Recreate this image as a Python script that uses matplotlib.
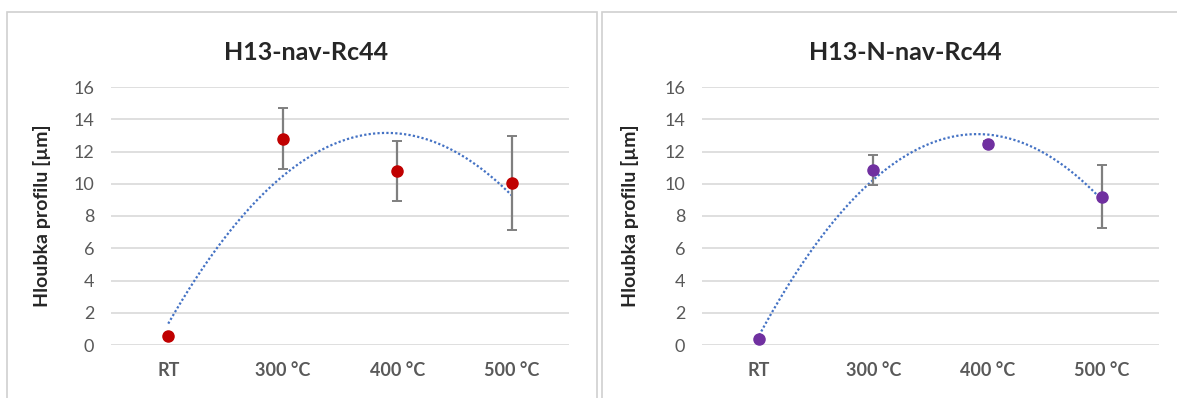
import numpy as np
import matplotlib
matplotlib.use("Agg")
import matplotlib.pyplot as plt
from matplotlib.patches import Rectangle

categories = ["RT", "300 °C", "400 °C", "500 °C"]

titles = ["H13-nav-Rc44", "H13-N-nav-Rc44"]
values_nav = [0.55, 12.8, 10.8, 10.05]
errors_nav = [0.0, 1.9, 1.85, 2.9]
values_n_nav = [0.4, 10.85, 12.45, 9.2]
errors_n_nav = [0.0, 0.95, 0.2, 1.95]
colors = ["#c00000", "#7030a0"]

plt.rcParams["font.family"] = ["Lato", "DejaVu Sans"]

fig = plt.figure(figsize=(11.77, 3.98), dpi=100)
W, H = 1177, 398

# panel frames
for x0, x1 in [(7, 597), (602, 1190)]:
    fig.patches.append(Rectangle((x0 / W, -0.05), (x1 - x0) / W, 1 - 12 / H + 0.05,
                                 transform=fig.transFigure, fill=False,
                                 edgecolor="#d0d0d0", lw=1.2))

axes_px = [(111, 569), (702, 1159)]
data = [(values_nav, errors_nav), (values_n_nav, errors_n_nav)]
ylabel_x = [42, 630]
title_x = [306, 905]

for i, ((xl, xr), (vals, errs)) in enumerate(zip(axes_px, data)):
    ax = fig.add_axes([xl / W, 1 - 345 / H, (xr - xl) / W, (345 - 87) / H])
    x = np.arange(len(categories)) + 0.5
    ax.set_xlim(0, 4)
    ax.set_ylim(0, 16)
    ax.set_yticks(range(0, 17, 2))
    ax.set_xticks(x)
    ax.set_xticklabels(categories, fontweight="bold")
    ax.tick_params(length=0, labelsize=13, colors="#595959")
    ax.tick_params(axis="y", pad=12)
    ax.tick_params(axis="x", pad=12)
    ax.grid(axis="y", color="#d9d9d9", lw=1.2)
    ax.set_axisbelow(True)
    for s in ax.spines.values():
        s.set_visible(False)

    # order-2 polynomial trendline as in the spreadsheet
    coef = np.polyfit(np.arange(1, 5), vals, 2)
    xs = np.linspace(1, 4, 200)
    ax.plot(xs - 0.5, np.polyval(coef, xs), color="#4472c4", lw=1.6, ls=(0, (1, 1)))

    ax.errorbar(x, vals, yerr=errs, fmt="none", ecolor="#7f7f7f", elinewidth=1.6,
                capsize=3.5, capthick=1.4, zorder=3)
    ax.plot(x, vals, "o", color=colors[i], ms=8, zorder=4)

    fig.text(title_x[i] / W, 1 - 52 / H, titles[i],
             ha="center", va="center", fontsize=18, fontweight="bold", color="#262626")
    fig.text(ylabel_x[i] / W, 1 - 216 / H, "Hloubka profilu [µm]", rotation=90,
             ha="center", va="center", fontsize=14, fontweight="bold", color="#262626")

fig.savefig("out.png", dpi=100)
